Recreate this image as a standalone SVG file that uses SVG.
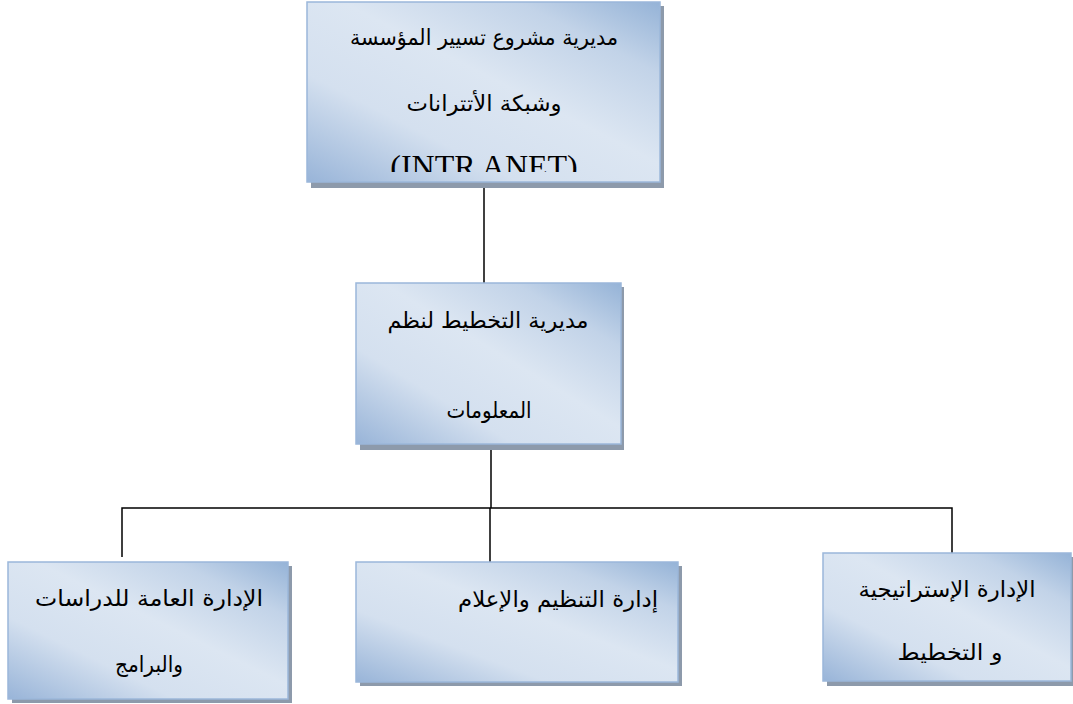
<svg xmlns="http://www.w3.org/2000/svg" width="1073" height="704" viewBox="0 0 1073 704">
<defs>
<linearGradient id="g" x1="0" y1="1" x2="1" y2="0">
<stop offset="0" stop-color="#98b4d8"/>
<stop offset="0.3" stop-color="#d4e0ef"/>
<stop offset="0.55" stop-color="#dce6f2"/>
<stop offset="0.8" stop-color="#c2d3e8"/>
<stop offset="1" stop-color="#95b3d7"/>
</linearGradient>
<clipPath id="clipTop"><rect x="307" y="2" width="354" height="170"/></clipPath>
</defs>
<style>
.sh{fill:#8d9aab}
.bx{fill:url(#g);stroke:#9bb7da;stroke-width:1.5}
.t{font-family:"DejaVu Sans","Liberation Serif",serif;font-size:22px;fill:#000;text-anchor:middle}
.c{stroke:#000;stroke-width:1.5;fill:none}
</style>
<g id="connectors">
<line class="c" x1="484" y1="182" x2="484" y2="284"/>
<line class="c" x1="491" y1="444" x2="491" y2="508"/>
<polyline class="c" points="122,557 122,508 952,508 952,555"/>
<line class="c" x1="490" y1="508" x2="490" y2="562"/>
</g>
<g id="node-top">
<rect class="sh" x="311" y="6" width="353" height="182"/>
<rect class="bx" x="307" y="2" width="353" height="180"/>
<text class="t" x="484" y="45" direction="rtl" textLength="268" lengthAdjust="spacingAndGlyphs">مديرية مشروع تسيير المؤسسة</text>
<text class="t" x="484" y="111" direction="rtl" textLength="155" lengthAdjust="spacingAndGlyphs">وشبكة الأتترانات</text>
<g clip-path="url(#clipTop)"><text x="484" y="177" font-family="Liberation Serif, serif" font-size="32" text-anchor="middle">(INTR ANET)</text></g>
</g>
<g id="node-mid">
<rect class="sh" x="360" y="287" width="264" height="163"/>
<rect class="bx" x="356" y="283" width="265" height="161"/>
<text class="t" x="488" y="328" direction="rtl" textLength="201" lengthAdjust="spacingAndGlyphs">مديرية التخطيط لنظم</text>
<text class="t" x="489" y="418" direction="rtl" textLength="85" lengthAdjust="spacingAndGlyphs">المعلومات</text>
</g>
<g id="node-left">
<rect class="sh" x="12" y="566" width="280" height="137"/>
<rect class="bx" x="8" y="562" width="280" height="137"/>
<text class="t" x="149" y="606" direction="rtl" textLength="228" lengthAdjust="spacingAndGlyphs">الإدارة  العامة للدراسات</text>
<text class="t" x="149" y="672" direction="rtl" textLength="68" lengthAdjust="spacingAndGlyphs">والبرامج</text>
</g>
<g id="node-center">
<rect class="sh" x="360" y="566" width="322" height="120"/>
<rect class="bx" x="356" y="562" width="322" height="120"/>
<text class="t" x="558" y="607" direction="rtl" textLength="200" lengthAdjust="spacingAndGlyphs">إدارة التنظيم والإعلام</text>
</g>
<g id="node-right">
<rect class="sh" x="827" y="557" width="246" height="129"/>
<rect class="bx" x="823" y="553" width="248" height="128"/>
<text class="t" x="947" y="597" direction="rtl" textLength="177" lengthAdjust="spacingAndGlyphs">الإدارة الإستراتيجية</text>
<text class="t" x="950" y="660" direction="rtl" textLength="105" lengthAdjust="spacingAndGlyphs">و التخطيط</text>
</g>
</svg>
